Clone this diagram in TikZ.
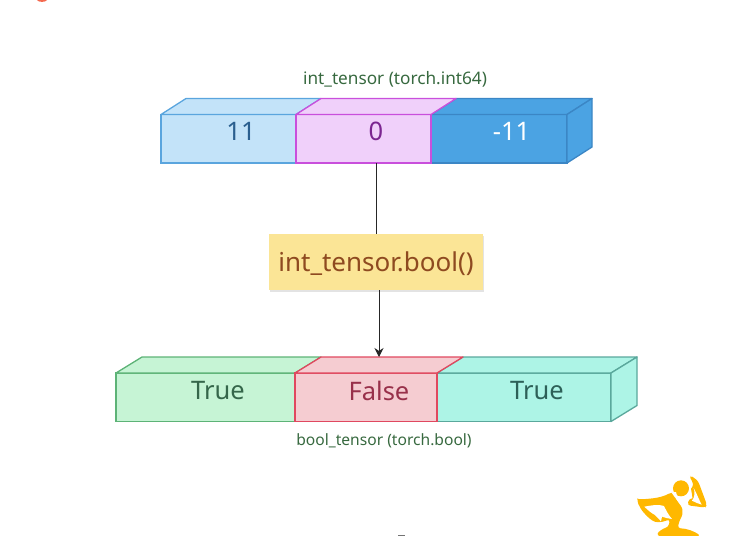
\documentclass[tikz,border=0pt]{standalone}
\usepackage{fontspec}
\setmainfont{Noto Sans}
\usetikzlibrary{shadows,arrows.meta}
\definecolor{blueF}{HTML}{C3E3F9}\definecolor{blueD}{HTML}{5AA5DE}\definecolor{blueT}{HTML}{2A5F8F}
\definecolor{magF}{HTML}{F0D0FA}\definecolor{magD}{HTML}{C94FDC}\definecolor{magT}{HTML}{7B2590}
\definecolor{deepF}{HTML}{4BA3E3}\definecolor{deepD}{HTML}{3B86C5}
\definecolor{grnF}{HTML}{C6F4D5}\definecolor{grnD}{HTML}{5DB377}\definecolor{grnT}{HTML}{35664A}
\definecolor{redF}{HTML}{F5CCD1}\definecolor{redD}{HTML}{E0485F}\definecolor{redT}{HTML}{98304A}
\definecolor{tealF}{HTML}{ADF4E6}\definecolor{tealD}{HTML}{5AA89C}\definecolor{tealT}{HTML}{2D6058}
\definecolor{yelF}{HTML}{FBE596}\definecolor{yelT}{HTML}{8E4A20}
\definecolor{capT}{HTML}{37693F}\definecolor{logoC}{HTML}{FFB800}\definecolor{redmark}{HTML}{F4694F}
\tikzset{
  cellbox/.style={draw,rectangle,line width=1.3pt,inner sep=0pt,outer sep=0pt,anchor=north west,minimum height=48.5pt},
  facepath/.style={line width=1.3pt,line join=round},
  celltext/.style={font=\fontsize{25.5}{28}\selectfont,anchor=center,inner sep=0pt},
  captext/.style={text=capT,anchor=center,inner sep=0pt},
  opbox/.style={rectangle,fill=yelF,minimum width=214pt,minimum height=56pt,inner sep=0pt,outer sep=0pt,text=yelT,
    text height=23pt,text depth=4pt,
    font=\fontsize{26}{30}\selectfont,drop shadow={opacity=.22,shadow xshift=1pt,shadow yshift=-1.5pt}},
  link/.style={draw=black!85,line width=1pt},
}
\newcommand{\topface}[4]{% node, dx, dy, colour stem
  \path[facepath,draw=#4D,fill=#4F] (#1.north west) -- ++(#2,-#3) -- ([shift={(#2,-#3)}]#1.north east) -- (#1.north east) -- cycle;}
\newcommand{\sideface}[4]{%
  \path[facepath,draw=#4D,fill=#4F] (#1.north east) -- ++(#2,-#3) -- ([shift={(#2,-#3)}]#1.south east) -- (#1.south east) -- cycle;}
\begin{document}
\begin{tikzpicture}[x=1pt,y=-1pt]
\useasboundingbox (0,0) rectangle (750,536);
% stray cropped marks at the page edges
\fill[redmark] (37,0) -- (47,0) .. controls (46,2.5) and (38,2.5) .. (37,0) -- cycle;
\fill[black!55] (398,535) rectangle (405,536);
% upper tensor
\node[cellbox,draw=blueD,fill=blueF,minimum width=135pt] (a) at (161,114.5) {};
\node[cellbox,draw=deepD,fill=deepF,minimum width=136pt] (c) at (431,114.5) {};
\topface{a}{25}{16}{blue}
\topface{c}{25}{16}{deep}
\sideface{c}{25}{16}{deep}
\node[cellbox,draw=magD,fill=magF,minimum width=135pt] (b) at (296,114.5) {};
\topface{b}{25}{16}{mag}
\node[celltext,text=blueT] (at) at (241,131.5) {11};
\node[celltext,text=magT] (bt) at (376,131.5) {0};
\node[celltext,text=white] (ct) at (511.5,131.5) {-11};
\node[captext,font=\fontsize{17.2}{20}\selectfont] (cap1) at (395,79.5) {int\_tensor (torch.int64)};
% operation
\node[opbox] (op) at (376,262) {int\_tensor.bool()};
% lower tensor
\node[cellbox,draw=grnD,fill=grnF,minimum width=179pt] (d) at (116,373) {};
\node[cellbox,draw=tealD,fill=tealF,minimum width=174pt] (f) at (437,373) {};
\topface{d}{26}{16}{grn}
\topface{f}{26}{16}{teal}
\sideface{f}{26}{16}{teal}
\node[cellbox,draw=redD,fill=redF,minimum width=142pt] (e) at (295,373) {};
\topface{e}{26}{16}{red}
\node[celltext,text=grnT] (dt) at (218,391) {True};
\node[celltext,text=redT] (et) at (379,391) {False};
\node[celltext,text=tealT] (ft) at (537,391) {True};
\node[captext,font=\fontsize{15.6}{18}\selectfont] (cap2) at (384,440.5) {bool\_tensor (torch.bool)};
% connectors
\coordinate (etop) at (379,357);
\draw[link] ([xshift=12.5pt]b.south) -- (op.north);
\draw[link,-{Stealth[length=9pt,width=9pt]}] ([xshift=3pt]op.south) -- (etop);
% logo
\begin{scope}[shift={(600,460)},x=0.3333pt,y=-0.3333pt]
\fill[logoC] (243,85) circle (24);
\fill[logoC,rounded corners=3pt] (112,124) .. controls (112,118) and (125,118) .. (150,116)
  .. controls (175,113) and (195,108) .. (213,97) -- (226,100) .. controls (228,125) and (245,135) .. (248,155)
  .. controls (246,170) and (238,180) .. (233,205) .. controls (260,205) and (285,215) .. (302,228)
  -- (170,228) .. controls (175,215) and (190,205) .. (205,202) -- (210,178) -- (187,186) -- (165,187)
  .. controls (140,170) and (122,150) .. (112,124) -- cycle;
\fill[logoC,rounded corners=3pt] (270,56) .. controls (276,50) and (290,58) .. (298,72)
  .. controls (306,95) and (314,115) .. (321,136) -- (315,143) -- (280,138) -- (262,136) -- (268,115)
  .. controls (278,115) and (275,95) .. (270,85) .. controls (280,78) and (280,68) .. (270,56) -- cycle;
\fill[white] (133,140) .. controls (155,136) and (175,132) .. (192,138) .. controls (198,150) and (205,165) .. (216,177)
  .. controls (205,177) and (195,172) .. (186,170) -- (183,184) .. controls (175,175) and (170,170) .. (165,165)
  .. controls (155,160) and (143,150) .. (133,140) -- cycle;
\fill[white] (281,84) .. controls (290,100) and (295,115) .. (305,134) .. controls (295,130) and (285,128) .. (276,122)
  .. controls (284,112) and (286,97) .. (281,84) -- cycle;
\fill[white] (214,97) -- (228,96) .. controls (232,115) and (240,130) .. (250,145) .. controls (240,130) and (226,115) .. (214,97) -- cycle;
\end{scope}
\end{tikzpicture}
\end{document}
